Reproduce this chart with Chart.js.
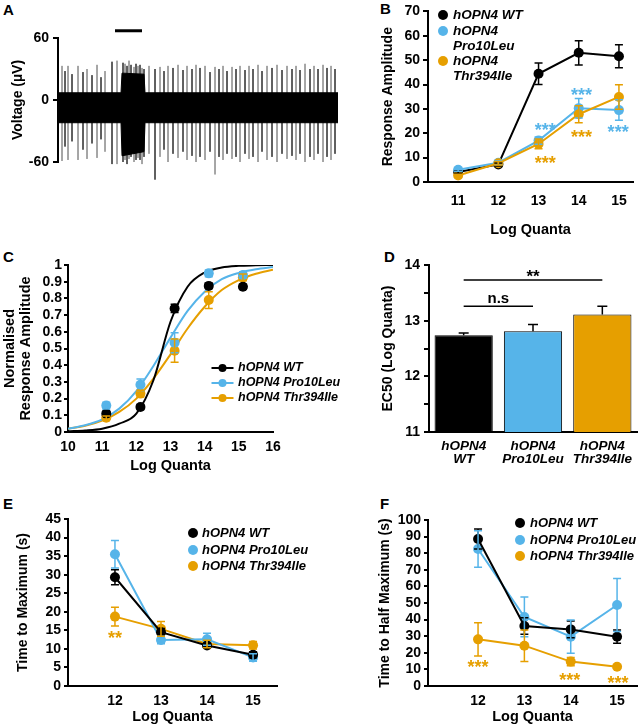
<!DOCTYPE html>
<html>
<head>
<meta charset="utf-8">
<script src="https://cdn.jsdelivr.net/npm/chart.js@4.4.1/dist/chart.umd.min.js"></script>
<style>
  body { margin: 0; background: #fff; width: 642px; height: 726px; position: relative; overflow: hidden; font-family: 'Liberation Sans', Arial, sans-serif; }
  canvas { position: absolute; }
  .tag { position: absolute; font-weight: bold; font-size: 15px; line-height: 15px; }
</style>
</head>
<body>
<div class="tag" style="left:3px;top:2px">A</div>
<div class="tag" style="left:380px;top:1px">B</div>
<div class="tag" style="left:3px;top:249px">C</div>
<div class="tag" style="left:384px;top:249px">D</div>
<div class="tag" style="left:3px;top:496px">E</div>
<div class="tag" style="left:380px;top:496px">F</div>
<script>
// ---------- data ----------
const names = ["hOPN4 WT", "hOPN4 Pro10Leu", "hOPN4 Thr394Ile"];

// A: extracellular trace (time in arbitrary units, voltage in µV)
const spikeTime = [4, 7, 10, 14, 20, 25, 29, 34, 39, 43, 47, 54, 59,
  65, 67, 69, 71, 73, 76, 78, 80, 82, 84, 86,
  91, 97, 102, 106, 110, 115, 120, 125, 129, 134, 138, 142, 147, 152, 157, 161, 165, 169, 174, 178,
  182, 187, 191, 195, 200, 204, 209, 214, 219, 224, 229, 234, 238, 242, 247, 252, 256, 260, 265, 269, 273, 277];
const spikeTop = [33, 28, 33, 25, 33, 27, 30, 24, 34, 22, 28, 37, 38,
  36, 35, 33, 38, 34, 32, 35, 33, 34, 31, 30,
  33, 30, 32, 28, 33, 31, 34, 29, 33, 30, 34, 31, 33, 27, 32, 30, 33, 28, 32, 30,
  33, 29, 33, 30, 34, 28, 33, 31, 34, 29, 33, 30, 33, 29, 35, 30, 33, 30, 34, 31, 33, 30];
const spikeBottom = [-59, -45, -58, -40, -58, -48, -57, -42, -56, -38, -50, -62, -62,
  -60, -58, -62, -57, -55, -60, -58, -56, -58, -62, -55,
  -52, -77, -55, -48, -60, -52, -56, -50, -58, -54, -60, -55, -58, -50, -72, -55, -58, -52, -57, -55,
  -60, -52, -57, -55, -60, -50, -58, -55, -60, -52, -57, -54, -58, -52, -60, -55, -58, -52, -60, -55, -58, -52];
const bandTime = [0, 63, 64, 86, 87, 280];
const bandTop = [7, 7, 26, 25, 7, 7];
const bandBottom = [-22, -22, -54, -50, -22, -22];
const stimOn = [57, 84];
const stimLevel = 67;
const voltTicks = [-60, 0, 60];

// B: response amplitude
const quantaB = [11, 12, 13, 14, 15];
const ampWT = [4.1, 7.2, 44.4, 53.0, 51.6];
const ampWTErr = [0.5, 0.6, 4.4, 5.0, 4.7];
const ampPro = [5.0, 7.9, 17.0, 30.3, 29.5];
const ampProErr = [0.6, 0.8, 1.5, 4.0, 4.2];
const ampThr = [2.7, 7.7, 15.6, 27.8, 34.9];
const ampThrErr = [0.5, 0.7, 2.0, 3.5, 5.0];
const ampTicks = [0, 10, 20, 30, 40, 50, 60, 70];
const starsB = [[13.17, 23, "blue", "***"], [14.07, 37.4, "blue", "***"], [14.98, 22, "blue", "***"],
                [13.17, 9.5, "orange", "***"], [14.07, 20.1, "orange", "***"]];

// C: normalised response + fitted curves
const quantaC = [11.12, 12.12, 13.12, 14.12, 15.12];
const normWT = [0.11, 0.15, 0.74, 0.875, 0.87];
const normWTErr = [0.015, 0.015, 0.025, 0.015, 0.015];
const normPro = [0.158, 0.283, 0.535, 0.95, 0.94];
const normProErr = [0.02, 0.035, 0.06, 0.02, 0.02];
const normThr = [0.086, 0.23, 0.487, 0.79, 0.926];
const normThrErr = [0.01, 0.02, 0.07, 0.05, 0.02];
const fitX = [10, 10.5, 11, 11.5, 12, 12.5, 13, 13.5, 14, 14.5, 15, 15.5, 16];
const fitWT = [0.004, 0.009, 0.02, 0.05, 0.11, 0.31, 0.66, 0.87, 0.955, 0.985, 0.995, 0.998, 1.0];
const fitPro = [0.02, 0.04, 0.075, 0.14, 0.245, 0.395, 0.565, 0.725, 0.84, 0.915, 0.953, 0.975, 0.988];
const fitThr = [0.02, 0.037, 0.068, 0.12, 0.2, 0.32, 0.465, 0.62, 0.75, 0.85, 0.91, 0.948, 0.972];
const cTicksX = [10, 11, 12, 13, 14, 15, 16];
const cTicksY = [0, 0.1, 0.2, 0.3, 0.4, 0.5, 0.6, 0.7, 0.8, 0.9, 1];

// D: EC50
const ec50Labels = [["hOPN4", "WT"], ["hOPN4", "Pro10Leu"], ["hOPN4", "Thr394Ile"]];
const ec50 = [12.74, 12.81, 13.11];
const ec50Err = [0.04, 0.12, 0.15];
const ec50Ticks = [11, 11.5, 12, 12.5, 13, 13.5, 14];
const sigD = [[0, 1, 13.26, "n.s"], [0, 2, 13.73, "**"]];

// E: time to maximum
const quantaE = [12, 13, 14, 15];
const tmaxWT = [29.3, 14.5, 10.9, 8.4];
const tmaxWTErr = [2.0, 1.0, 0.6, 0.8];
const tmaxPro = [35.5, 12.4, 12.6, 7.7];
const tmaxProErr = [3.7, 1.0, 1.6, 1.0];
const tmaxThr = [18.7, 15.4, 11.3, 11.0];
const tmaxThrErr = [2.5, 2.0, 1.0, 1.0];
const tmaxTicks = [0, 5, 10, 15, 20, 25, 30, 35, 40, 45];
const starsE = [[12, 14.0, "orange", "**"]];

// F: time to half maximum
const thalfWT = [88.6, 36.1, 34.1, 29.7];
const thalfWTErr = [6, 5, 5, 4];
const thalfPro = [82.5, 41.6, 29.7, 48.8];
const thalfProErr = [11, 12, 10, 16];
const thalfThr = [28.1, 24.3, 14.7, 11.6];
const thalfThrErr = [10, 9.5, 2.5, 1];
const thalfTicks = [0, 10, 20, 30, 40, 50, 60, 70, 80, 90, 100];
const starsF = [[12, 13.7, "orange", "***"], [13.98, 6.2, "orange", "***"], [15.02, 4.2, "orange", "***"]];

// ---------- styling ----------
const FONT = "'Liberation Sans', Arial, sans-serif";
const COLORS = { black: "#000000", blue: "#56B4E9", orange: "#E69F00" };
const seriesColors = [COLORS.black, COLORS.blue, COLORS.orange];

Chart.defaults.font.family = FONT;
Chart.defaults.font.weight = "bold";
Chart.defaults.font.size = 14;
Chart.defaults.color = "#000";
Chart.defaults.animation = false;
Chart.defaults.plugins.legend.display = false;
Chart.defaults.plugins.tooltip.enabled = false;

// error bars drawn through the y scale
Chart.register({
  id: "errorBars",
  afterDatasetsDraw(chart) {
    const ctx = chart.ctx;
    chart.data.datasets.forEach((ds, i) => {
      if (!ds.errors) return;
      const meta = chart.getDatasetMeta(i);
      const ys = chart.scales[meta.yAxisID];
      ctx.save();
      ctx.strokeStyle = ds.errColor || ds.borderColor;
      ctx.lineWidth = 1.5;
      meta.data.forEach((el, j) => {
        const e = ds.errors[j];
        if (!e) return;
        const v = meta.controller.getParsed(j).y;
        const top = ys.getPixelForValue(v + e);
        const bot = ys.getPixelForValue(ds.errUpOnly ? v : v - e);
        const cap = ds.errCap || 4;
        ctx.beginPath();
        ctx.moveTo(el.x, top); ctx.lineTo(el.x, bot);
        ctx.moveTo(el.x - cap, top); ctx.lineTo(el.x + cap, top);
        if (!ds.errUpOnly) { ctx.moveTo(el.x - cap, bot); ctx.lineTo(el.x + cap, bot); }
        ctx.stroke();
      });
      ctx.restore();
    });
  }
});

function starsPlugin(items) {
  return {
    id: "stars",
    afterDatasetsDraw(chart) {
      const ctx = chart.ctx, sx = chart.scales.x, sy = chart.scales.y;
      ctx.save();
      ctx.font = "bold 18px " + FONT;
      ctx.textAlign = "center";
      ctx.textBaseline = "alphabetic";
      items.forEach(([x, y, c, t]) => {
        ctx.fillStyle = COLORS[c];
        ctx.fillText(t, sx.getPixelForValue(x), sy.getPixelForValue(y) + 10);
      });
      ctx.restore();
    }
  };
}

function legendPlugin(box, spec) {
  return {
    id: "customLegend",
    afterDraw(chart) {
      const ctx = chart.ctx;
      ctx.save();
      ctx.font = "italic bold " + spec.size + "px " + FONT;
      ctx.textBaseline = "middle";
      ctx.textAlign = "left";
      chart.data.datasets.slice(0, 3).forEach((ds, k) => {
        const mx = spec.markX - box.x, my = spec.ys[k] - box.y;
        ctx.fillStyle = ds.borderColor;
        ctx.strokeStyle = ds.borderColor;
        if (spec.line) {
          ctx.lineWidth = 2;
          ctx.beginPath(); ctx.moveTo(mx - 11, my); ctx.lineTo(mx + 11, my); ctx.stroke();
        }
        ctx.beginPath(); ctx.arc(mx, my, spec.r, 0, Math.PI * 2); ctx.fill();
        ctx.fillStyle = "#000";
        const lines = spec.wrap && k > 0 ? ds.label.split(" ") : [ds.label];
        lines.forEach((t, n) => ctx.fillText(t, spec.textX - box.x, my + n * spec.lineH));
      });
      ctx.restore();
    }
  };
}

function series(xs, ys, errs, color, label, extra) {
  return Object.assign({
    label: label,
    data: xs.map((x, i) => ({ x: x, y: ys[i] })),
    errors: errs,
    borderColor: color,
    backgroundColor: color,
    borderWidth: 2,
    pointRadius: 5,
    pointBorderWidth: 0,
    pointBackgroundColor: color
  }, extra || {});
}

function xAxis(min, max, ticks, title, tickPad, titlePad) {
  return {
    type: "linear", min: min, max: max,
    afterBuildTicks: s => { s.ticks = ticks.map(v => ({ value: v })); },
    grid: { display: false, drawTicks: false },
    border: { display: true, color: "#000", width: 2 },
    ticks: { padding: tickPad, color: "#000", autoSkip: false, maxRotation: 0, callback: v => String(v) },
    title: { display: !!title, text: title, font: { size: 14.5, weight: "bold" }, color: "#000", padding: { top: 0, bottom: titlePad } }
  };
}

function yAxis(min, max, ticks, title, titlePad, tickLen, tickPad, titleFont) {
  return {
    type: "linear", min: min, max: max,
    afterBuildTicks: s => { s.ticks = ticks.map(v => ({ value: v })); },
    grid: { display: true, drawOnChartArea: false, drawTicks: true, tickLength: tickLen, lineWidth: 2, color: "#000" },
    border: { display: true, color: "#000", width: 2 },
    ticks: { padding: tickPad, color: "#000", autoSkip: false, callback: v => String(v) },
    title: { display: true, text: title, font: titleFont || { size: 14, weight: "bold" }, color: "#000", padding: { top: titlePad, bottom: 0 } }
  };
}

function makePanel(box, area, config) {
  const c = document.createElement("canvas");
  c.width = box.w; c.height = box.h;
  c.style.left = box.x + "px"; c.style.top = box.y + "px";
  document.body.appendChild(c);
  const o = config.options;
  o.responsive = false;
  o.layout = { padding: { left: 0, bottom: 0, top: area.top - box.y, right: box.x + box.w - area.right } };
  o.scales.x.afterFit = s => { s.height = box.y + box.h - area.bottom; };
  o.scales.y.afterFit = s => { s.width = area.left - box.x; };
  return new Chart(c, config);
}

// ---------- A ----------
function spikePoints(parity) {
  const pts = [];
  spikeTime.forEach((t, i) => {
    if (i % 2 !== parity) return;
    pts.push({ x: t, y: spikeTop[i] }, { x: t, y: spikeBottom[i] }, { x: t, y: null });
  });
  return pts;
}
const boxA = { x: 0, y: 0, w: 342, h: 200 };
makePanel(boxA, { left: 58, top: 38, right: 338, bottom: 162 }, {
  type: "line",
  data: {
    datasets: [
      { data: bandTime.map((t, i) => ({ x: t, y: bandTop[i] })), borderColor: "#000", borderWidth: 1, pointRadius: 0, fill: false, order: 0 },
      { data: bandTime.map((t, i) => ({ x: t, y: bandBottom[i] })), borderColor: "#000", backgroundColor: "#000", borderWidth: 1, pointRadius: 0, fill: "-1", order: 0 },
      { data: spikePoints(0), borderColor: "#9a9a9a", borderWidth: 1, pointRadius: 0, spanGaps: false, clip: false, order: 2 },
      { data: spikePoints(1), borderColor: "#4a4a4a", borderWidth: 1, pointRadius: 0, spanGaps: false, clip: false, order: 2 },
      { data: stimOn.map(t => ({ x: t, y: stimLevel })), borderColor: "#000", borderWidth: 3, pointRadius: 0, clip: false, order: 0 }
    ]
  },
  options: {
    scales: {
      x: { type: "linear", min: 0, max: 280, grid: { display: false, drawTicks: false }, border: { display: false }, ticks: { display: false } },
      y: yAxis(-60, 60, voltTicks, "Voltage (µV)", 9.6, 5, 4)
    }
  }
});

// ---------- B ----------
const boxB = { x: 345, y: 0, w: 297, h: 240 };
makePanel(boxB, { left: 428, top: 10, right: 633, bottom: 182 }, {
  type: "line",
  data: {
    datasets: [
      series(quantaB, ampWT, ampWTErr, COLORS.black, names[0], { order: 3 }),
      series(quantaB, ampPro, ampProErr, COLORS.blue, names[1], { order: 2 }),
      series(quantaB, ampThr, ampThrErr, COLORS.orange, names[2], { order: 1 })
    ]
  },
  options: {
    scales: {
      x: xAxis(10.25, 15.35, quantaB, "Log Quanta", 11, 1.3),
      y: yAxis(0, 70, ampTicks, "Response Amplitude", 34.6, 5, 3)
    }
  },
  plugins: [legendPlugin(boxB, { markX: 443, textX: 453, ys: [15, 31, 61], lineH: 15, r: 5, size: 13.5, wrap: true }), starsPlugin(starsB)]
});

// ---------- C ----------
const boxC = { x: 0, y: 240, w: 340, h: 238 };
const curve = (ys, color) => ({
  data: fitX.map((x, i) => ({ x: x, y: ys[i] })),
  borderColor: color, borderWidth: 2, pointRadius: 0, cubicInterpolationMode: "monotone"
});
makePanel(boxC, { left: 68, top: 265, right: 273, bottom: 432 }, {
  type: "line",
  data: {
    datasets: [
      series(quantaC, normWT, normWTErr, COLORS.black, names[0], { showLine: false }),
      series(quantaC, normPro, normProErr, COLORS.blue, names[1], { showLine: false }),
      series(quantaC, normThr, normThrErr, COLORS.orange, names[2], { showLine: false }),
      curve(fitWT, COLORS.black),
      curve(fitPro, COLORS.blue),
      curve(fitThr, COLORS.orange)
    ]
  },
  options: {
    scales: {
      x: xAxis(10, 16, cTicksX, "Log Quanta", 7, 3.3),
      y: yAxis(0, 1, cTicksY, ["Normalised", "Response Amplitude"], 2, 4, 2, { size: 14.5, weight: "bold", lineHeight: 1.1 })
    }
  },
  plugins: [legendPlugin(boxC, { markX: 222.5, textX: 238, ys: [368, 383, 398], lineH: 15, r: 4, size: 12.5, line: true })]
});

// ---------- D ----------
const boxD = { x: 340, y: 240, w: 302, h: 238 };
const yD = yAxis(11, 14, ec50Ticks, "EC50 (Log Quanta)", 39.6, 5, 4);
yD.ticks.callback = v => (v % 1 === 0 ? String(v) : "");
makePanel(boxD, { left: 429, top: 265, right: 637, bottom: 432 }, {
  type: "bar",
  data: {
    labels: ec50Labels,
    datasets: [{
      data: ec50, errors: ec50Err, errUpOnly: true, errColor: "#000", errCap: 5,
      backgroundColor: seriesColors, borderColor: "#000", borderWidth: 1,
      categoryPercentage: 1, barPercentage: 0.84
    }]
  },
  options: {
    scales: {
      x: {
        type: "category",
        grid: { display: false, drawTicks: false },
        border: { display: true, color: "#000", width: 2 },
        ticks: { padding: 7.5, color: "#000", autoSkip: false, maxRotation: 0, font: { size: 13.5, style: "italic", weight: "bold", lineHeight: 0.97 } }
      },
      y: yD
    }
  },
  plugins: [{
    id: "sig",
    afterDatasetsDraw(chart) {
      const ctx = chart.ctx, sx = chart.scales.x, sy = chart.scales.y;
      ctx.save();
      ctx.strokeStyle = "#000"; ctx.fillStyle = "#000"; ctx.lineWidth = 1.5;
      ctx.textAlign = "center"; ctx.textBaseline = "alphabetic";
      sigD.forEach(([a, b, lvl, t]) => {
        const x1 = sx.getPixelForValue(a), x2 = sx.getPixelForValue(b), y = sy.getPixelForValue(lvl);
        ctx.beginPath(); ctx.moveTo(x1, y); ctx.lineTo(x2, y); ctx.stroke();
        const star = t.indexOf("*") >= 0;
        ctx.font = "bold " + (star ? 17 : 15) + "px " + FONT;
        ctx.fillText(t, (x1 + x2) / 2, star ? y + 2 : y - 3);
      });
      ctx.restore();
    }
  }]
});

// ---------- E ----------
const boxE = { x: 0, y: 490, w: 335, h: 236 };
makePanel(boxE, { left: 68, top: 519, right: 277, bottom: 686 }, {
  type: "line",
  data: {
    datasets: [
      series(quantaE, tmaxWT, tmaxWTErr, COLORS.black, names[0]),
      series(quantaE, tmaxPro, tmaxProErr, COLORS.blue, names[1]),
      series(quantaE, tmaxThr, tmaxThrErr, COLORS.orange, names[2])
    ]
  },
  options: {
    scales: {
      x: xAxis(10.98, 15.52, quantaE, "Log Quanta", 7, 0.3),
      y: yAxis(0, 45, tmaxTicks, "Time to Maximum (s)", 14.3, 4, 3)
    }
  },
  plugins: [legendPlugin(boxE, { markX: 193, textX: 202, ys: [533, 550, 566], lineH: 15, r: 5, size: 13 }), starsPlugin(starsE)]
});

// ---------- F ----------
const boxF = { x: 340, y: 490, w: 302, h: 236 };
makePanel(boxF, { left: 428, top: 520, right: 637, bottom: 686 }, {
  type: "line",
  data: {
    datasets: [
      series(quantaE, thalfWT, thalfWTErr, COLORS.black, names[0]),
      series(quantaE, thalfPro, thalfProErr, COLORS.blue, names[1]),
      series(quantaE, thalfThr, thalfThrErr, COLORS.orange, names[2])
    ]
  },
  options: {
    scales: {
      x: xAxis(10.92, 15.43, quantaE, "Log Quanta", 7, 0.3),
      y: yAxis(0, 100, thalfTicks, "Time to Half Maximum (s)", 36.6, 4, 3)
    }
  },
  plugins: [legendPlugin(boxF, { markX: 520, textX: 530, ys: [523, 540, 556], lineH: 15, r: 5, size: 13 }), starsPlugin(starsF)]
});
</script>
</body>
</html>
